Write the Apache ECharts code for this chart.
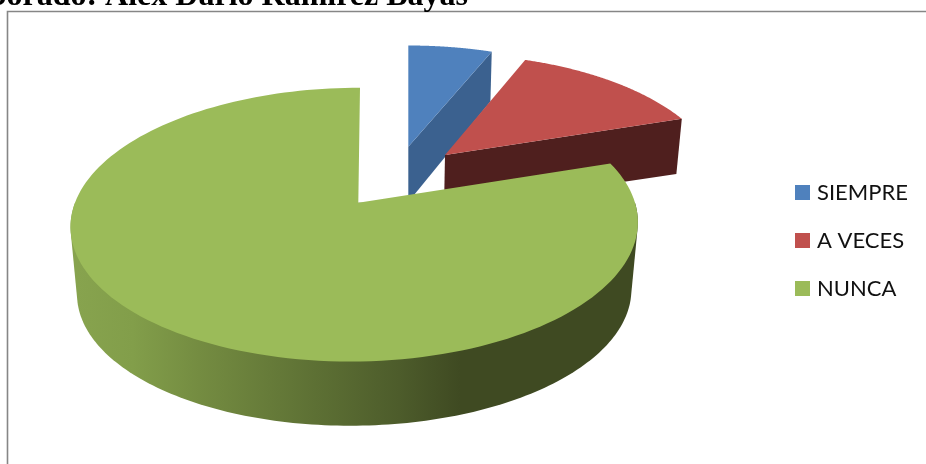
<!DOCTYPE html>
<html>
<head>
<meta charset="utf-8">
<style>html,body{margin:0;padding:0;background:#fff}#c{width:926px;height:464px}</style>
<script src="https://cdn.jsdelivr.net/npm/echarts@6/dist/echarts.min.js"></script>
</head>
<body>
<div id="c"></div>
<script>
const categories = ['SIEMPRE', 'A VECES', 'NUNCA'];
const values = [6, 14, 80];
const topColors = ['#4F81BD', '#C0504D', '#9BBB59'];
const wallColors = ['#3B618F', '#4F1F1E', null];
const greenWallStops = [
  [0.0, '#87A34E'], [0.1, '#829E4A'], [0.22, '#748C41'], [0.43, '#5D7034'],
  [0.58, '#4D5C2B'], [0.69, '#3F4A22'], [1.0, '#3F4A22']
];

// drawing geometry of the exploded pie (perspective projection per slice)
const A = 133.4, B = 280;
const geometry = [
  { k: 0.16, shift: 0,
    top: { ox: 408.3, oy: 146.7, sx: 0.93, sy: 0.88 },
    bot: { ox: 408.3, oy: 202, sx: 0.915, sy: 0.93 } },
  { k: 0.25, shift: 0,
    top: { ox: 445, oy: 155, sx: 0.958, sy: 0.945 },
    bot: { ox: 444, oy: 208.5, sx: 0.94, sy: 0.9 } },
  { k: 0.16, shift: 1,
    top: { ox: 358.3, oy: 202.7, sx: 1, sy: 1 },
    bot: { ox: 358.3, oy: 270.6, sx: 0.977, sy: 0.977 } }
];

const total = values.reduce((a, b) => a + b, 0);
const starts = values.map((_, i) => values.slice(0, i).reduce((a, b) => a + b, 0));

function project(g, lv, theta) {
  const u = Math.sin(theta), v = Math.cos(theta), w = 1 + g.k * v;
  const dx = g.shift ? 1.7 - 5 * (1 - v) : 0;
  return [lv.ox + lv.sx * B * u / w + dx, lv.oy - lv.sy * A * v / w];
}
function arc(g, lv, a0, a1) {
  const pts = [], n = 160;
  for (let j = 0; j <= n; j++) pts.push(project(g, lv, a0 + (a1 - a0) * j / n));
  return pts;
}
function hull(points) {
  const p = points.slice().sort((a, b) => a[0] - b[0] || a[1] - b[1]);
  const cross = (o, a, b) => (a[0] - o[0]) * (b[1] - o[1]) - (a[1] - o[1]) * (b[0] - o[0]);
  const lo = [], up = [];
  for (const q of p) {
    while (lo.length > 1 && cross(lo[lo.length - 2], lo[lo.length - 1], q) <= 0) lo.pop();
    lo.push(q);
  }
  for (let i = p.length - 1; i >= 0; i--) {
    const q = p[i];
    while (up.length > 1 && cross(up[up.length - 2], up[up.length - 1], q) <= 0) up.pop();
    up.push(q);
  }
  return lo.slice(0, -1).concat(up.slice(0, -1));
}

function makeRender(i) {
  return function (params, api) {
    const val = api.value(0);
    const g = geometry[i];
    const a0 = starts[i] / total * 2 * Math.PI;
    const a1 = a0 + val / total * 2 * Math.PI;
    const children = [];
    if (i < 2) {
      const t = project(g, g.top, a1), b = project(g, g.bot, a1);
      children.push({ type: 'polygon', silent: true,
        shape: { points: [[g.top.ox, g.top.oy], t, b, [g.bot.ox, g.bot.oy]] },
        style: { fill: wallColors[i] } });
    } else {
      // outer rim: the front half of the slice between its top and bottom faces
      const f0 = Math.PI / 2, f1 = 3 * Math.PI / 2;
      const rim = hull(arc(g, g.top, f0, f1).concat(arc(g, g.bot, f0, f1)));
      children.push({ type: 'polygon', silent: true,
        shape: { points: rim },
        style: { fill: new echarts.graphic.LinearGradient(77, 0, 632, 0,
          greenWallStops.map(s => ({ offset: s[0], color: s[1] })), true) } });
    }
    children.push({ type: 'polygon', silent: true,
      shape: { points: [[g.top.ox, g.top.oy]].concat(arc(g, g.top, a0, a1)) },
      style: { fill: topColors[i] } });
    return { type: 'group', children };
  };
}

const chart = echarts.init(document.getElementById('c'), null, { renderer: 'canvas' });
chart.setOption({
  animation: false,
  backgroundColor: '#fff',
  legend: {
    data: categories, orient: 'vertical', left: 795, top: 181.5, padding: 0,
    icon: 'rect', itemWidth: 15, itemHeight: 15, itemGap: 26, selectedMode: false,
    textStyle: { fontFamily: 'Lato', fontSize: 22, lineHeight: 15, color: '#111', padding: [0, 0, 0, 2] }
  },
  graphic: [
    { type: 'text', z: 10, style: { text: 'Elaborado: Alex Darío Ramírez Bayas', x: 468, y: -19,
        textAlign: 'right',
        font: 'bold 32px "Liberation Serif"', fill: '#000' } },
    { type: 'rect', z: 0, shape: { x: 7.5, y: 11.5, width: 1000, height: 600 },
      style: { fill: 'none', stroke: '#868686', lineWidth: 1.6 } }
  ],
  series: categories.map((name, i) => ({
    type: 'custom', name, coordinateSystem: 'none',
    itemStyle: { color: topColors[i] },
    renderItem: makeRender(i),
    data: [[values[i]]], z: 2 + i, silent: true
  }))
});
</script>
</body>
</html>
